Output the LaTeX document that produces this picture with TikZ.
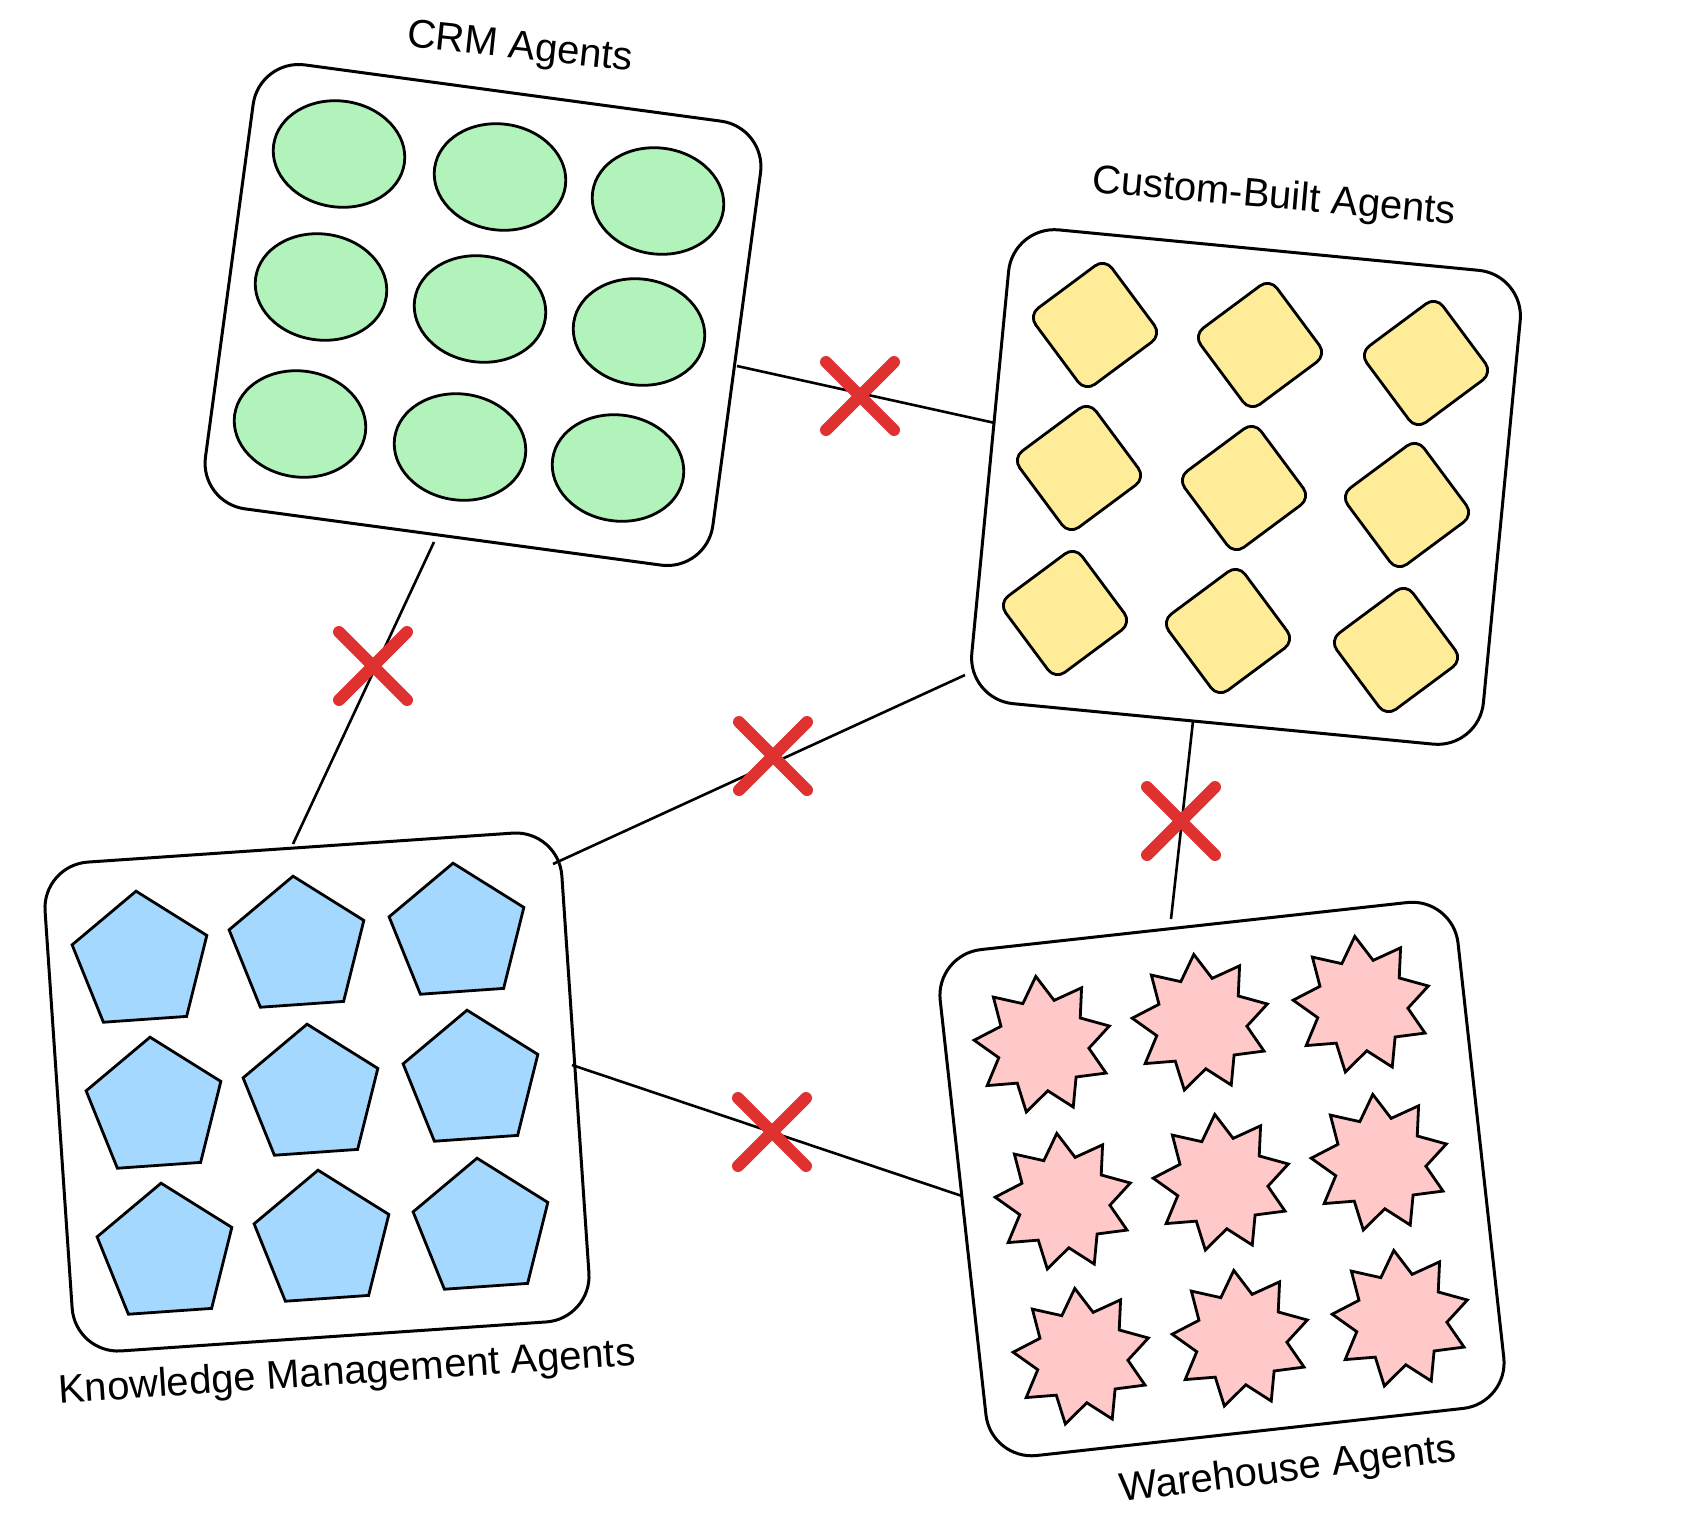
\documentclass[tikz,border=0pt]{standalone}
\usepackage{fontspec}
\setmainfont{Liberation Sans}
\usetikzlibrary{shapes.geometric,shapes.misc}
\definecolor{crmgreen}{HTML}{B2F2BB}
\definecolor{cbyellow}{HTML}{FFEC99}
\definecolor{kmblue}{HTML}{A5D8FF}
\definecolor{whpink}{HTML}{FFC9C9}
\definecolor{xred}{HTML}{E03131}
\begin{document}
\begin{tikzpicture}[x=1pt,y=-1pt,
  box/.style={draw=black, line width=3pt, rounded corners=46pt, inner sep=0pt},
  conn/.style={draw=black, line width=2.6pt},
  xmark/.style={cross out, draw=xred, line width=12pt, line cap=round, minimum size=56pt, inner sep=0pt},
  lbl/.style={font=\fontsize{40}{48}\selectfont, inner sep=0pt},
  crmshape/.style={ellipse, draw=black, fill=crmgreen, line width=2.8pt, minimum width=132pt, minimum height=106pt, inner sep=0pt, rotate=-8},
  cbshape/.style={rectangle, draw=black, fill=cbyellow, line width=2.8pt, rounded corners=12pt, minimum size=95pt, inner sep=0pt, rotate=36.6},
  kmshape/.style={regular polygon, regular polygon sides=5, draw=black, fill=kmblue, line width=2.8pt, minimum size=142pt, inner sep=0pt, rotate=4},
  whshape/.style={star, star points=9, star point ratio=1.5, draw=black, fill=whpink, line width=2.8pt, minimum size=138pt, inner sep=0pt, rotate=6}
]
\useasboundingbox (0,0) rectangle (1700,1535);
\fill[white] (0,0) rectangle (1700,1535);

% boxes
\node[box, minimum width=512pt, minimum height=448pt, rotate=-7.7] (crm) at (483,315) {};
\node[box, minimum width=514pt, minimum height=476pt, rotate=-5.5] (cb) at (1246,487) {};
\node[box, minimum width=518pt, minimum height=490pt, rotate=3.9] (km) at (317,1092) {};
\node[box, minimum width=521pt, minimum height=509pt, rotate=6.3] (wh) at (1222,1179) {};

% CRM circles
\foreach \px/\py [count=\i] in {339/154,500/177,658/201,321/287,480/309,639/332,300/424,460/447,618/468}
  \node[crmshape] (crm\i) at (\px,\py) {};
% Custom-built diamonds
\foreach \px/\py [count=\i] in {1095/325,1260/345,1426/363,1079/468,1244/488,1407/505,1065/613,1228/631,1396/650}
  \node[cbshape] (cb\i) at (\px,\py) {};
% Knowledge pentagons
\foreach \px/\py [count=\i] in {141/962,298/947,458/934,155/1108,312/1095,472/1081,166/1254,323/1241,482/1229}
  \node[kmshape] (km\i) at (\px,\py) {};
% Warehouse stars
\foreach \px/\py [count=\i] in {1043/1045,1201/1023,1362/1005,1064/1202,1222/1183,1380/1163,1082/1357,1241/1339,1401/1319}
  \node[whshape] (wh\i) at (\px,\py) {};

% connector end points
\coordinate (crmR) at (737,366);
\coordinate (cbL) at (995,423);
\coordinate (crmB) at (434,542);
\coordinate (kmT) at (293,844);
\coordinate (kmR) at (553,864);
\coordinate (cbBL) at (965,675);
\coordinate (cbB) at (1193,721);
\coordinate (whT) at (1171,919);
\coordinate (kmR2) at (572,1065);
\coordinate (whL) at (962,1196);

\draw[conn] (crmR) -- (cbL);
\draw[conn] (crmB) -- (kmT);
\draw[conn] (kmR) -- (cbBL);
\draw[conn] (cbB) -- (whT);
\draw[conn] (kmR2) -- (whL);

% red crosses
\node[xmark] (x1) at (860,396) {};
\node[xmark] (x2) at (373,666) {};
\node[xmark] (x3) at (773,756) {};
\node[xmark] (x4) at (1181,821) {};
\node[xmark] (x5) at (772,1132) {};

% labels
\node[lbl, rotate=-6] (lcrm) at (520,49) {CRM Agents};
\node[lbl, rotate=-5] (lcb) at (1274,198) {Custom-Built Agents};
\node[lbl, rotate=3.8] (lkm) at (347,1374) {Knowledge Management Agents};
\node[lbl, rotate=7] (lwh) at (1288,1471) {Warehouse Agents};
\end{tikzpicture}
\end{document}
